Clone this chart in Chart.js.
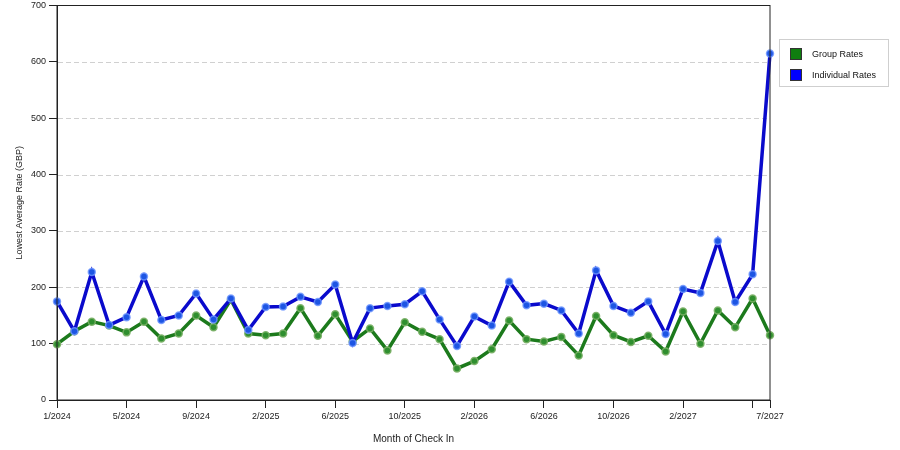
<!DOCTYPE html>
<html>
<head>
<meta charset="utf-8">
<script src="https://cdn.jsdelivr.net/npm/chart.js@4.4.1/dist/chart.umd.min.js"></script>
<style>
  body { margin: 0; background: #fff; }
  #wrap { position: relative; width: 900px; height: 450px; }
  #legend {
    position: absolute; left: 779px; top: 39px; width: 108px; height: 46px;
    border: 1px solid #cfcfcf; font: 9px "Liberation Sans", Arial, sans-serif; color: #111;
  }
  .item { position: absolute; left: 10px; height: 12px; line-height: 12px; }
  .sw { display: inline-block; width: 12px; height: 12px; vertical-align: top; margin-right: 10px; box-sizing: border-box; border: 1px solid #333; }
</style>
</head>
<body>
<div id="wrap">
  <canvas id="chart" width="900" height="450"></canvas>
  <div id="legend">
    <div class="item" style="top:8px"><span class="sw" style="background:#0f7d0f"></span>Group Rates</div>
    <div class="item" style="top:29px"><span class="sw" style="background:#0000ff"></span>Individual Rates</div>
  </div>
</div>
<script>
const months = [
  "1/2024", "2/2024", "3/2024", "4/2024", "5/2024", "6/2024", "7/2024", "8/2024",
  "9/2024", "10/2024", "11/2024", "1/2025", "2/2025", "3/2025", "4/2025", "5/2025",
  "6/2025", "7/2025", "8/2025", "9/2025", "10/2025", "11/2025", "12/2025", "1/2026",
  "2/2026", "3/2026", "4/2026", "5/2026", "6/2026", "7/2026", "8/2026", "9/2026",
  "10/2026", "11/2026", "12/2026", "1/2027", "2/2027", "3/2027", "4/2027", "5/2027",
  "6/2027", "7/2027"
];
// labels printed under the axis
const shownTicks = ["1/2024", "5/2024", "9/2024", "2/2025", "6/2025", "10/2025",
  "2/2026", "6/2026", "10/2026", "2/2027", "7/2027"];

const groupRates = [99, 122, 139, 132, 120, 139, 109, 118, 150, 129, 178, 118, 115, 118,
  163, 114, 152, 104, 127, 88, 138, 121, 108, 56, 69, 90, 141, 108, 104, 112, 79, 149,
  115, 103, 114, 86, 157, 100, 159, 129, 180, 115];
const individualRates = [175, 122, 227, 133, 147, 219, 142, 150, 189, 143, 180, 124, 165,
  166, 183, 174, 205, 101, 163, 167, 170, 193, 143, 96, 148, 132, 210, 168, 171, 159, 118,
  230, 167, 155, 175, 117, 197, 190, 282, 174, 223, 615];

const yTicks = [0, 100, 200, 300, 400, 500, 600, 700];

const FONT = "'Liberation Sans', Arial, sans-serif";

// dashed horizontal grid + box round the plot
const frame = {
  id: "frame",
  beforeDatasetsDraw(chart) {
    const { ctx, chartArea, scales } = chart;
    ctx.save();
    ctx.strokeStyle = "#d0d0d0";
    ctx.lineWidth = 1;
    ctx.setLineDash([5, 3]);
    for (const v of yTicks.slice(1, -1)) {
      const y = Math.round(scales.y.getPixelForValue(v)) + 0.5;
      ctx.beginPath();
      ctx.moveTo(chartArea.left + 1, y);
      ctx.lineTo(chartArea.right - 1, y);
      ctx.stroke();
    }
    ctx.restore();
  },
  afterDraw(chart) {
    const { ctx, chartArea } = chart;
    ctx.save();
    ctx.strokeStyle = "#222";
    ctx.lineWidth = 1;
    ctx.strokeRect(chartArea.left, chartArea.top, chartArea.right - chartArea.left, chartArea.bottom - chartArea.top);
    ctx.restore();
  },
};

new Chart(document.getElementById("chart"), {
  type: "line",
  data: {
    labels: months,
    datasets: [
      {
        label: "Group Rates",
        data: groupRates,
        borderColor: "#1c7a1c",
        backgroundColor: "#2f8f2f",
        pointBorderColor: "rgba(120,175,100,0.9)",
        order: 1,
      },
      {
        label: "Individual Rates",
        data: individualRates,
        borderColor: "#0a0acc",
        backgroundColor: "#1d55e3",
        pointBorderColor: "rgba(110,150,255,0.8)",
        order: 0,
      },
    ],
  },
  options: {
    responsive: false,
    animation: false,
    clip: false,
    layout: { padding: { top: 0, right: 130, left: 0, bottom: 0 } },
    elements: {
      line: { borderWidth: 3.5, tension: 0 },
      point: { radius: 3.5, borderWidth: 1.5 },
    },
    plugins: {
      legend: { display: false },
      tooltip: { enabled: false },
    },
    scales: {
      x: {
        offset: false,
        afterFit(scale) { scale.height = 50; },
        grid: { drawOnChartArea: false, tickLength: 8, tickColor: "#222" },
        border: { color: "#222" },
        ticks: {
          autoSkip: false,
          maxRotation: 0,
          padding: 3,
          color: "#222",
          font: { family: FONT, size: 9 },
          callback(value, i) {
            const m = months[i];
            if (shownTicks.includes(m)) return m;
            if (i % 4 === 0) return "";
            return null;
          },
        },
        title: {
          display: true,
          text: "Month of Check In",
          color: "#222",
          font: { family: FONT, size: 10 },
          padding: { top: 4, bottom: 5 },
        },
      },
      y: {
        min: 0,
        max: 700,
        afterFit(scale) {
          scale.width = 57;
          scale.paddingTop = 4.5;
        },
        afterBuildTicks(scale) { scale.ticks = yTicks.map(v => ({ value: v })); },
        grid: {
          drawOnChartArea: false,
          tickLength: 8,
          tickColor: "#222",
        },
        border: { color: "#222" },
        ticks: {
          padding: 3,
          color: "#222",
          font: { family: FONT, size: 9 },
        },
        title: {
          display: true,
          text: "Lowest Average Rate (GBP)",
          color: "#222",
          font: { family: FONT, size: 9 },
          padding: { top: 14, bottom: 4 },
        },
      },
    },
  },
  plugins: [frame],
});
</script>
</body>
</html>
